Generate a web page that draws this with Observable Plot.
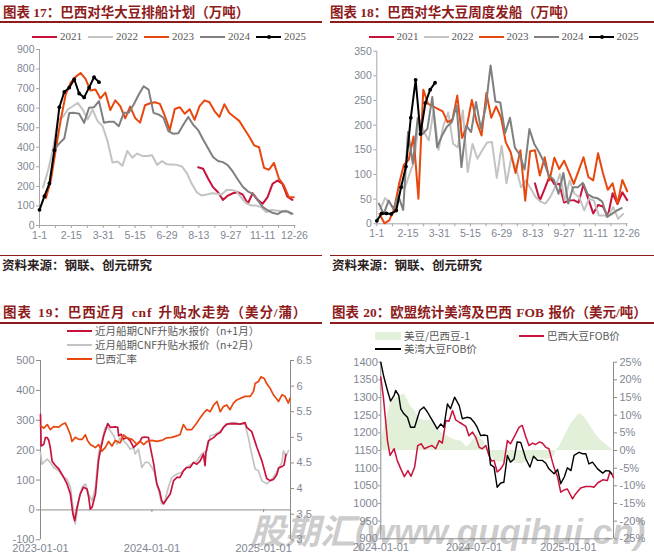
<!DOCTYPE html>
<html lang="zh">
<head>
<meta charset="utf-8">
<script src="https://cdn.jsdelivr.net/npm/d3@7"></script>
<script src="https://cdn.jsdelivr.net/npm/@observablehq/plot@0.6"></script>
<style>
html,body{margin:0;padding:0;background:#fff;}
#root{position:relative;width:654px;height:559px;overflow:hidden;background:#fff;}
.t{position:absolute;white-space:nowrap;line-height:1;font-family:"Liberation Serif","Noto Sans CJK SC",serif;font-weight:700;font-size:13.5px;color:#8f1c1c;}
.rule{position:absolute;background:#8f1c1c;}
.src{position:absolute;white-space:nowrap;line-height:1;font-family:"Noto Sans CJK SC",sans-serif;font-weight:700;font-size:12.5px;color:#2b1d1d;}
.lg{position:absolute;display:flex;align-items:center;white-space:nowrap;line-height:1;color:#595959;}
.lg svg{display:block;margin-right:3px;}
.plot{position:absolute;}
.wm{position:absolute;white-space:nowrap;line-height:1;font-family:"Liberation Sans","Noto Sans CJK SC",sans-serif;font-weight:700;font-style:italic;font-size:35px;color:rgba(140,140,140,0.45);}
</style>
</head>
<body>
<div id="root"></div>
<script>
// ---------------- DATA ----------------
// Panel 17: 巴西对华大豆排船计划（万吨） weekly values, first-week day offsets
const years = ["2021","2022","2023","2024","2025"];
const plan2021 = [298,290,240,196,170,131,153,165,170,158,111,165,131,111,145,213,230,213,148,131];
const plan2022 = [195,280,390,540,555,593,610,627,593,542,593,534,508,432,322,327,305,381,347,368,356,356,359,310,329,313,312,310,302,268,213,170,153,158,165,162,158,182,182,175,142,114,102,102,94,68,80,77,73,77,58];
const plan2023 = [140,230,390,540,670,730,760,780,750,690,695,650,680,590,640,610,548,608,550,526,615,625,630,622,560,488,596,605,572,595,540,610,640,630,585,555,620,575,555,535,495,455,410,400,295,285,320,240,205,145,145];
const plan2024 = [390,420,445,575,576,571,525,602,605,636,525,530,530,508,576,576,619,669,712,695,576,568,551,483,469,472,515,555,515,488,440,395,350,330,324,308,275,235,198,175,162,130,95,78,65,58,72,72,60];
const plan2025 = [80,150,215,385,605,683,705,748,675,655,705,758,733];
const planStartDay = [224, 5, 9, 21, 0];

// Panel 18: 巴西对华大豆周度发船（万吨）
const ship2021 = [82,47,71,96,80,81,43,47,48,43,80,50,21,38,35,15,62,40,64,48];
const ship2022 = [30,52,42,28,84,71,100,128,213,186,169,230,150,199,226,162,155,230,105,162,132,149,165,166,93,158,82,135,112,74,88,71,54,45,41,54,74,101,47,88,61,54,27,51,47,17,17,17,34,10,20];
const ship2023 = [20,1,7,30,80,120,130,177,51,272,243,238,233,228,206,211,260,174,199,251,206,179,265,215,238,216,165,145,103,149,47,147,149,98,135,88,134,111,128,105,81,108,135,95,88,143,103,69,82,41,89,66];
const ship2024 = [41,20,47,30,57,28,186,122,215,182,193,257,155,179,197,206,240,115,199,186,247,193,236,321,248,246,184,215,155,140,110,192,162,145,125,98,90,61,103,41,74,74,83,60,54,52,45,14,20,27,32];
const ship2025 = [6,21,21,20,27,74,116,215,292,182,245,272,286];
const shipStartDay = [228, 5, 4, 3, 0];

const weekTickLabels = ["1-1","2-15","3-31","5-15","6-29","8-13","9-27","11-11","12-26"];
const yearColors = ["#c8123c","#c3c3c3","#e8470e","#7f7f7f","#000000"];

// Panel 19: 巴西近月 cnf 升贴水（美分/蒲） & 巴西汇率
const cnfN1 = [["2023-01-01",320],["2023-01-03",214],["2023-01-12",220],["2023-01-17",242],["2023-01-23",242],["2023-01-28",233],["2023-02-02",209],["2023-02-08",164],["2023-02-19",148],["2023-03-02",137],["2023-03-18",109],["2023-03-29",87],["2023-04-09",53],["2023-04-17",-13],["2023-04-23",-36],["2023-05-01",9],["2023-05-11",53],["2023-05-22",76],["2023-06-02",70],["2023-06-08",42],["2023-06-13",3],["2023-06-19",9],["2023-06-30",53],["2023-07-10",164],["2023-07-16",198],["2023-07-27",248],["2023-08-05",276],["2023-08-09",289],["2023-08-18",276],["2023-09-03",278],["2023-09-11",276],["2023-09-14",248],["2023-09-22",253],["2023-09-30",237],["2023-10-11",242],["2023-10-22",231],["2023-11-02",209],["2023-11-13",220],["2023-11-24",231],["2023-11-29",242],["2023-12-10",244],["2023-12-21",242],["2023-12-27",209],["2024-01-07",153],["2024-01-17",87],["2024-01-26",64],["2024-02-02",31],["2024-02-08",20],["2024-02-19",37],["2024-03-01",53],["2024-03-12",98],["2024-03-23",109],["2024-04-02",109],["2024-04-13",131],["2024-04-24",142],["2024-05-05",142],["2024-05-16",159],["2024-05-27",153],["2024-06-07",164],["2024-06-18",187],["2024-06-23",148],["2024-06-26",192],["2024-07-04",231],["2024-07-21",242],["2024-08-01",253],["2024-08-12",259],["2024-08-22",276],["2024-09-02",287],["2024-09-24",289],["2024-10-16",287],["2024-11-01",292],["2024-11-07",276],["2024-11-23",262],["2024-12-10",209],["2024-12-26",165],["2025-01-11",105],["2025-01-22",98],["2025-02-02",102],["2025-02-13",118],["2025-02-19",140],["2025-03-02",145],["2025-03-09",150],["2025-03-15",185]];
const cnfN2 = [["2023-01-01",192],["2023-01-06",153],["2023-01-17",164],["2023-01-23",170],["2023-02-02",159],["2023-02-13",142],["2023-03-02",131],["2023-03-18",109],["2023-03-29",103],["2023-04-09",76],["2023-04-20",-13],["2023-04-25",-47],["2023-05-06",31],["2023-05-17",76],["2023-05-28",87],["2023-06-08",53],["2023-06-19",31],["2023-06-30",76],["2023-07-10",187],["2023-07-21",231],["2023-08-01",276],["2023-08-09",276],["2023-08-18",264],["2023-08-29",248],["2023-09-08",220],["2023-09-19",242],["2023-09-30",231],["2023-10-11",220],["2023-10-22",203],["2023-11-02",209],["2023-11-07",187],["2023-11-18",203],["2023-11-29",142],["2023-12-10",159],["2023-12-21",159],["2024-01-01",142],["2024-01-09",126],["2024-01-17",87],["2024-01-26",53],["2024-02-02",20],["2024-02-13",31],["2024-02-24",76],["2024-03-06",109],["2024-03-23",120],["2024-04-08",126],["2024-04-24",142],["2024-05-10",153],["2024-05-27",164],["2024-06-12",187],["2024-06-29",198],["2024-07-10",248],["2024-07-26",253],["2024-08-12",264],["2024-08-28",281],["2024-09-13",292],["2024-09-29",292],["2024-10-16",287],["2024-11-01",287],["2024-11-12",242],["2024-11-23",187],["2024-12-04",137],["2024-12-15",131],["2024-12-26",98],["2025-01-11",87],["2025-01-28",103],["2025-02-13",126],["2025-03-02",159],["2025-03-07",198],["2025-03-15",181],["2025-03-23",198]];
const brlRate = [["2023-01-01",5.23],["2023-01-12",5.18],["2023-01-23",5.25],["2023-02-02",5.15],["2023-02-13",5.21],["2023-03-02",5.2],["2023-03-12",5.25],["2023-03-23",5.28],["2023-03-29",5.21],["2023-04-09",5.05],["2023-04-14",4.92],["2023-04-25",5.0],["2023-05-06",4.96],["2023-05-17",4.96],["2023-05-28",5.05],["2023-06-04",4.94],["2023-06-13",4.86],["2023-06-30",4.8],["2023-07-10",4.86],["2023-07-21",4.73],["2023-08-01",4.8],["2023-08-12",4.92],["2023-08-23",4.83],["2023-09-03",4.94],["2023-09-19",4.89],["2023-09-30",5.05],["2023-10-11",4.99],["2023-10-28",4.96],["2023-11-13",4.86],["2023-11-24",4.92],["2023-12-05",4.86],["2023-12-16",4.92],["2024-01-01",4.94],["2024-01-17",4.92],["2024-02-02",4.94],["2024-02-19",4.99],["2024-03-06",5.0],["2024-03-17",5.02],["2024-04-02",5.05],["2024-04-13",5.25],["2024-04-24",5.15],["2024-05-10",5.15],["2024-05-27",5.28],["2024-06-07",5.38],["2024-06-18",5.47],["2024-06-29",5.54],["2024-07-10",5.5],["2024-07-21",5.63],["2024-08-01",5.7],["2024-08-12",5.5],["2024-08-22",5.6],["2024-09-02",5.63],["2024-09-13",5.54],["2024-09-24",5.67],["2024-10-05",5.73],["2024-10-16",5.76],["2024-11-01",5.8],["2024-11-18",5.8],["2024-11-29",5.9],["2024-12-04",6.05],["2024-12-15",6.09],["2024-12-23",6.18],["2025-01-03",6.15],["2025-01-11",6.05],["2025-01-22",5.96],["2025-02-02",5.83],["2025-02-19",5.7],["2025-03-02",5.83],["2025-03-12",5.8],["2025-03-23",5.67],["2025-03-28",5.76]];
const cnfLeftTicks = [-100,0,100,200,300,400,500];
const fxTicks = [3,3.5,4,4.5,5,5.5,6,6.5];
const p3DateTicks = ["2023-01-01","2024-01-01","2025-01-01"];

// Panel 20: 欧盟统计美湾及巴西 FOB 报价（美元/吨）
const usGulfFob = [["2024-01-01",1400],["2024-01-07",1358],["2024-01-14",1320],["2024-01-20",1290],["2024-01-27",1306],["2024-01-30",1320],["2024-02-05",1306],["2024-02-09",1268],["2024-02-15",1254],["2024-02-22",1244],["2024-02-28",1216],["2024-03-07",1216],["2024-03-12",1240],["2024-03-17",1263],["2024-03-25",1273],["2024-04-01",1259],["2024-04-07",1244],["2024-04-14",1227],["2024-04-20",1211],["2024-04-27",1225],["2024-05-03",1216],["2024-05-10",1282],["2024-05-16",1268],["2024-05-24",1301],["2024-06-02",1277],["2024-06-08",1240],["2024-06-17",1244],["2024-06-24",1242],["2024-07-01",1230],["2024-07-07",1216],["2024-07-14",1192],["2024-07-20",1194],["2024-07-27",1192],["2024-08-02",1110],["2024-08-09",1103],["2024-08-15",1046],["2024-08-22",1058],["2024-08-28",1060],["2024-09-04",1136],["2024-09-10",1117],["2024-09-17",1126],["2024-09-23",1174],["2024-09-30",1173],["2024-10-10",1126],["2024-10-18",1103],["2024-10-25",1134],["2024-11-02",1122],["2024-11-11",1122],["2024-11-18",1114],["2024-11-24",1098],["2024-12-04",1084],["2024-12-11",1096],["2024-12-17",1056],["2024-12-24",1075],["2024-12-30",1101],["2025-01-06",1093],["2025-01-12",1136],["2025-01-22",1145],["2025-01-28",1141],["2025-02-04",1141],["2025-02-10",1112],["2025-02-17",1117],["2025-02-27",1098],["2025-03-09",1086],["2025-03-15",1093],["2025-03-22",1092],["2025-03-26",1084]];
const brazilFob = [["2024-01-01",1358],["2024-01-06",1301],["2024-01-11",1225],["2024-01-14",1178],["2024-01-19",1136],["2024-01-27",1155],["2024-02-02",1122],["2024-02-09",1098],["2024-02-16",1076],["2024-02-23",1093],["2024-02-29",1077],["2024-03-07",1103],["2024-03-13",1164],["2024-03-20",1169],["2024-03-26",1155],["2024-04-04",1161],["2024-04-10",1164],["2024-04-17",1155],["2024-04-24",1178],["2024-04-30",1171],["2024-05-07",1235],["2024-05-13",1233],["2024-05-20",1263],["2024-05-26",1237],["2024-06-02",1230],["2024-06-08",1225],["2024-06-15",1218],["2024-06-21",1192],["2024-06-28",1202],["2024-07-04",1188],["2024-07-11",1159],["2024-07-17",1155],["2024-07-24",1164],["2024-07-30",1136],["2024-08-04",1120],["2024-08-09",1122],["2024-08-15",1089],["2024-08-22",1098],["2024-08-28",1112],["2024-09-04",1178],["2024-09-10",1169],["2024-09-17",1188],["2024-09-27",1216],["2024-10-03",1221],["2024-10-10",1188],["2024-10-16",1164],["2024-10-23",1171],["2024-10-29",1167],["2024-11-05",1174],["2024-11-11",1171],["2024-11-18",1159],["2024-11-24",1155],["2024-12-01",1117],["2024-12-06",1093],["2024-12-11",1075],["2024-12-17",1032],["2024-12-25",1039],["2024-12-30",1041],["2025-01-09",1013],["2025-01-15",1027],["2025-01-25",1044],["2025-02-04",1048],["2025-02-14",1048],["2025-02-20",1046],["2025-02-27",1058],["2025-03-09",1067],["2025-03-18",1065],["2025-03-23",1089],["2025-03-26",1086],["2025-03-30",1073]];
const usBrRatioPct = [["2024-01-01",2.5],["2024-01-07",6],["2024-01-14",10],["2024-01-20",13.5],["2024-01-27",14.5],["2024-02-02",15],["2024-02-09",15.5],["2024-02-16",16],["2024-02-22",14.5],["2024-02-28",12.5],["2024-03-07",11.3],["2024-03-17",9],["2024-03-25",8.5],["2024-04-04",8.5],["2024-04-14",8],["2024-04-24",5.5],["2024-05-03",4.5],["2024-05-13",3.8],["2024-05-24",3],["2024-06-02",2.8],["2024-06-08",2.4],["2024-06-17",0.9],["2024-06-24",2],["2024-07-01",3.5],["2024-07-07",4.5],["2024-07-14",3.5],["2024-07-20",2.5],["2024-07-27",0.5],["2024-08-02",-1.2],["2024-08-12",-3],["2024-08-22",-3.3],["2024-09-04",-3],["2024-09-17",-3.5],["2024-09-30",-3.8],["2024-10-13",-3.2],["2024-10-26",-2.5],["2024-11-08",-2.3],["2024-11-21",-2.6],["2024-12-04",-1.8],["2024-12-08",0],["2024-12-14",0.9],["2024-12-24",3.8],["2025-01-06",7.5],["2025-01-19",9.9],["2025-01-25",10.4],["2025-02-04",9],["2025-02-14",6.6],["2025-02-27",3.8],["2025-03-13",1.9],["2025-03-22",0.9],["2025-03-28",0.3]];
const fobLeftTicks = [900,950,1000,1050,1100,1150,1200,1250,1300,1350,1400];
const pctTicks = [-25,-20,-15,-10,-5,0,5,10,15,20,25];
const p4DateTicks = ["2024-01-01","2024-07-01","2025-01-01"];

// ---------------- HELPERS ----------------
const root = document.getElementById("root");
const parse = d3.utcParse("%Y-%m-%d");
function add(html){ root.insertAdjacentHTML("beforeend", html); }
function place(svg, left, top){ svg.classList.add("plot"); svg.style.left = left + "px"; svg.style.top = top + "px"; root.appendChild(svg); }
const LBL = "#7f8794";
const AX = "#a6a6a6";
const AX2 = "#8c8c8c";
const baseStyle = {background: "transparent", overflow: "visible", fontFamily: "Liberation Sans, Arial, sans-serif", fontSize: "10.5px"};

function weeklyRows(seriesList, starts){
  return seriesList.map((vals, k) => vals.map((v, i) => ({year: years[k], day: starts[k] + 7 * i, value: v})));
}
function weeklyMarks(rowsByYear){
  const marks = [];
  rowsByYear.forEach((rows, k) => {
    marks.push(Plot.line(rows, {x: "day", y: "value", stroke: yearColors[k], strokeWidth: 2}));
  });
  marks.push(Plot.dot(rowsByYear[4], {x: "day", y: "value", r: 1.9, fill: "#000"}));
  return marks;
}
function weekAxis(){
  return Plot.axisX({ticks: d3.range(0, 361, 22.5), tickSize: 3, tickPadding: 3, stroke: AX, fill: LBL, label: null, fontSize: 10.5,
    tickFormat: d => (d % 45 === 0 ? weekTickLabels[d / 45] : "")});
}
function yearLegend(x0, step, top){
  years.forEach((y, k) => {
    const dot = k === 4 ? `<circle cx="13" cy="5" r="2" fill="#000"/>` : "";
    add(`<div class="lg" style="left:${x0 + k * step}px;top:${top}px;font-family:'Liberation Serif',serif;font-size:11px;">
      <svg width="25" height="10"><line x1="0" y1="5" x2="25" y2="5" stroke="${yearColors[k]}" stroke-width="2"/>${dot}</svg><span>${y}</span></div>`);
  });
}

// ---------------- TITLES / RULES ----------------
add(`<div class="t" style="left:3px;top:6px;">图表 17：巴西对华大豆排船计划（万吨）</div>`);
add(`<div class="rule" style="left:0;top:21px;width:322px;height:2px;"></div>`);
add(`<div class="rule" style="left:0;top:255px;width:322px;height:1px;"></div>`);
add(`<div class="src" style="left:2px;top:259px;">资料来源：钢联、创元研究</div>`);

add(`<div class="t" style="left:330px;top:6px;">图表 18：巴西对华大豆周度发船（万吨）</div>`);
add(`<div class="rule" style="left:330px;top:21px;width:324px;height:2px;"></div>`);
add(`<div class="rule" style="left:330px;top:255px;width:324px;height:1px;"></div>`);
add(`<div class="src" style="left:332px;top:259px;">资料来源：钢联、创元研究</div>`);

add(`<div class="t" style="left:3px;top:306px;letter-spacing:0.9px;word-spacing:2px;">图表 19：巴西近月 cnf 升贴水走势（美分/蒲）</div>`);
add(`<div class="rule" style="left:0;top:322px;width:322px;height:2px;"></div>`);

add(`<div class="t" style="left:332px;top:306px;word-spacing:1px;">图表 20：欧盟统计美湾及巴西 FOB 报价（美元/吨）</div>`);
add(`<div class="rule" style="left:330px;top:322px;width:324px;height:2px;"></div>`);

// ---------------- PANEL 17 ----------------
yearLegend(32, 56, 31);
const p1Rows = weeklyRows([plan2021, plan2022, plan2023, plan2024, plan2025], planStartDay);
place(Plot.plot({
  width: 304, height: 201, marginLeft: 39, marginRight: 8.6, marginTop: 5, marginBottom: 20,
  style: baseStyle,
  x: {domain: [0, 362]}, y: {domain: [0, 900]},
  marks: [
    Plot.axisY({ticks: d3.range(0, 901, 100), tickSize: 3, tickPadding: 2, stroke: AX, fill: LBL, label: null, fontSize: 10.5}),
    weekAxis(),
    Plot.ruleX([0], {stroke: AX}),
    Plot.ruleY([0], {stroke: AX}),
    ...weeklyMarks(p1Rows)
  ]
}), 0, 44);

// ---------------- PANEL 18 ----------------
yearLegend(368.5, 55, 31);
const p2Rows = weeklyRows([ship2021, ship2022, ship2023, ship2024, ship2025], shipStartDay);
place(Plot.plot({
  width: 310, height: 199, marginLeft: 49.3, marginRight: 9.6, marginTop: 6.7, marginBottom: 19.7,
  style: baseStyle,
  x: {domain: [0, 362]}, y: {domain: [0, 350]},
  marks: [
    Plot.axisY({ticks: d3.range(0, 351, 50), tickSize: 3, tickPadding: 2, stroke: AX, fill: LBL, label: null, fontSize: 10.5}),
    weekAxis(),
    Plot.ruleX([0], {stroke: AX}),
    Plot.ruleY([0], {stroke: AX}),
    ...weeklyMarks(p2Rows)
  ]
}), 327, 44);

// ---------------- PANEL 19 ----------------
const legend3 = [["#c8123c","近月船期CNF升贴水报价（n+1月）"],["#c3c3c3","近月船期CNF升贴水报价（n+2月）"],["#e8470e","巴西汇率"]];
legend3.forEach(([c, txt], k) => {
  add(`<div class="lg" style="left:67px;top:${326 + k * 14}px;font-family:'Noto Sans CJK SC',sans-serif;font-size:10.5px;">
    <svg width="25" height="10"><line x1="0" y1="5" x2="25" y2="5" stroke="${c}" stroke-width="2"/></svg><span>${txt}</span></div>`);
});
const toL3 = v => -100 + (v - 3) * 600 / 3.5;
const fromL3 = d => 3 + (d + 100) * 3.5 / 600;
place(Plot.plot({
  width: 327, height: 204, marginLeft: 40, marginRight: 37, marginTop: 5, marginBottom: 19.7,
  style: {...baseStyle, fontSize: "11px"},
  x: {type: "utc", domain: [parse("2023-01-01"), parse("2025-03-30")]},
  y: {domain: [-100, 500]},
  marks: [
    Plot.axisY({anchor: "left", ticks: cnfLeftTicks, tickFormat: d => String(d), tickSize: 4, tickPadding: 2, stroke: AX2, fill: LBL, label: null, fontSize: 11}),
    Plot.axisY({anchor: "right", ticks: fxTicks.map(toL3), tickFormat: d => String(Math.round(fromL3(d) * 10) / 10), tickSize: 3, tickPadding: 3, stroke: AX2, fill: LBL, label: null, fontSize: 11}),
    Plot.axisX({ticks: p3DateTicks.map(parse), tickFormat: d3.utcFormat("%Y-%m-%d"), tickSize: 0, tickPadding: 4, fill: LBL, label: null, fontSize: 11}),
    Plot.ruleX([parse("2023-01-01")], {stroke: AX2}),
    Plot.ruleX([parse("2025-03-30")], {stroke: AX2}),
    Plot.ruleY([0], {stroke: AX2}),
    Plot.ruleX(p3DateTicks.slice(1).map(parse), {y1: 0, y2: -9, stroke: AX2}),
    Plot.line(cnfN2, {x: d => parse(d[0]), y: d => d[1], stroke: "#c3c3c3", strokeWidth: 1.7}),
    Plot.line(cnfN1, {x: d => parse(d[0]), y: d => d[1], stroke: "#c8123c", strokeWidth: 1.7}),
    Plot.line(brlRate, {x: d => parse(d[0]), y: d => toL3(d[1]), stroke: "#e8470e", strokeWidth: 1.7})
  ]
}), 0, 355);

// ---------------- PANEL 20 ----------------
add(`<div class="lg" style="left:375px;top:331px;font-family:'Noto Sans CJK SC',sans-serif;font-size:10.5px;">
  <svg width="26" height="10"><rect x="0" y="1" width="26" height="8" fill="#e2efd9"/></svg><span>美豆/巴西豆-1</span></div>`);
add(`<div class="lg" style="left:519px;top:331px;font-family:'Noto Sans CJK SC',sans-serif;font-size:10.5px;">
  <svg width="25" height="10"><line x1="0" y1="5" x2="25" y2="5" stroke="#c8123c" stroke-width="2"/></svg><span>巴西大豆FOB价</span></div>`);
add(`<div class="lg" style="left:375px;top:344px;font-family:'Noto Sans CJK SC',sans-serif;font-size:10.5px;">
  <svg width="26" height="10"><line x1="0" y1="5" x2="26" y2="5" stroke="#000" stroke-width="2"/></svg><span>美湾大豆FOB价</span></div>`);
const toL4 = p => 1150 + p * 10;
place(Plot.plot({
  width: 327, height: 204, marginLeft: 53.3, marginRight: 41, marginTop: 6.7, marginBottom: 20.7,
  style: {...baseStyle, fontSize: "11px"},
  x: {type: "utc", domain: [parse("2024-01-01"), parse("2025-03-30")]},
  y: {domain: [900, 1400]},
  marks: [
    Plot.axisY({anchor: "left", ticks: fobLeftTicks, tickFormat: d => String(d), tickSize: 2, tickPadding: 1, stroke: AX2, fill: LBL, label: null, fontSize: 11}),
    Plot.axisY({anchor: "right", ticks: pctTicks.map(toL4), tickFormat: d => Math.round((d - 1150) / 10) + "%", tickSize: 3, tickPadding: 3, stroke: AX2, fill: LBL, label: null, fontSize: 11}),
    Plot.axisX({ticks: p4DateTicks.map(parse), tickFormat: d3.utcFormat("%Y-%m-%d"), tickSize: 0, tickPadding: 4, fill: LBL, label: null, fontSize: 11}),
    Plot.areaY(usBrRatioPct, {x: d => parse(d[0]), y1: toL4(0), y2: d => toL4(d[1]), fill: "#e2efd9"}),
    Plot.ruleX([parse("2024-01-01")], {stroke: AX2}),
    Plot.ruleX([parse("2025-03-30")], {stroke: AX2}),
    Plot.ruleY([900], {stroke: AX2}),
    Plot.ruleX(p4DateTicks.slice(1).map(parse), {y1: 900, y2: 893, stroke: AX2}),
    Plot.line(brazilFob, {x: d => parse(d[0]), y: d => d[1], stroke: "#c8123c", strokeWidth: 1.5}),
    Plot.line(usGulfFob, {x: d => parse(d[0]), y: d => d[1], stroke: "#000", strokeWidth: 1.4})
  ]
}), 327, 355);

// watermark
add(`<div class="wm" style="left:250px;top:514px;">股期汇(www.guqihui.cn)</div>`);
</script>
</body>
</html>
